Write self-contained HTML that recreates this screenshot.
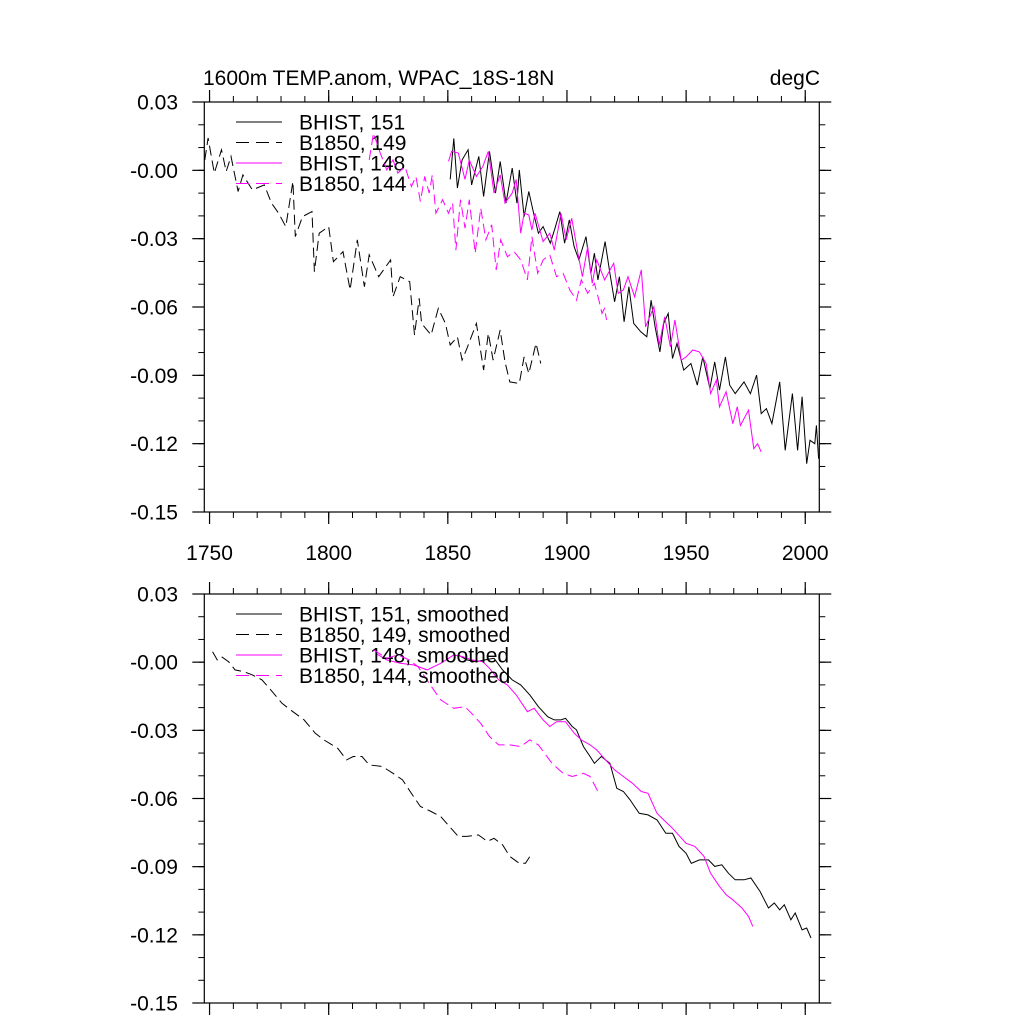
<!DOCTYPE html>
<html><head><meta charset="utf-8"><style>
html,body{margin:0;padding:0;background:#fff;}
svg{display:block;font-family:"Liberation Sans",sans-serif;}
</style></head><body>
<svg id="chart" width="1024" height="1024" viewBox="0 0 1024 1024" xmlns="http://www.w3.org/2000/svg">
<rect width="1024" height="1024" fill="#fff"/>
<text x="203" y="85" font-size="21">1600m TEMP.anom, WPAC_18S-18N</text>
<text x="820" y="85" font-size="21" text-anchor="end">degC</text>
</svg>
<script>
const xTicks=[1750,1800,1850,1900,1950,2000];
const yTicks=[0.03,0.00,-0.03,-0.06,-0.09,-0.12,-0.15];
const yTickLabels=["0.03","-0.00","-0.03","-0.06","-0.09","-0.12","-0.15"];

const b149Years=[1748,1749.4,1752,1755,1757,1759,1762,1764,1768,1773,1776,1779,1782,1785,1786,1789,1793,1794,1796,1800,1802,1806,1809,1812,1815,1817,1821,1826,1827,1830,1834,1836,1838,1839,1843,1846,1849,1851,1854,1856,1858,1862,1865,1867,1869,1872,1874,1876,1880,1882,1884,1887,1889];
const b149Vals=[0.0046,0.0142,-0.0012,0.009,-0.0005,0.0061,-0.0093,-0.002,-0.0086,-0.0064,-0.0144,-0.0188,-0.0247,-0.0049,-0.0291,-0.0203,-0.0181,-0.0445,-0.0276,-0.0247,-0.0401,-0.0357,-0.0525,-0.0305,-0.0511,-0.0371,-0.0467,-0.0393,-0.0555,-0.0467,-0.0489,-0.0723,-0.0562,-0.0672,-0.0723,-0.0606,-0.0672,-0.0767,-0.0731,-0.0833,-0.0782,-0.0672,-0.0877,-0.0716,-0.0833,-0.0701,-0.0841,-0.0929,-0.0936,-0.0819,-0.0892,-0.076,-0.0848];

const h151Years=[1851,1852.5,1854,1856,1858.5,1860,1863,1865,1867.5,1870,1872,1874.4,1877,1879,1880,1882,1884,1886,1888,1890,1893,1895,1897,1899,1901,1903,1905,1908,1910,1911.5,1913,1916,1918,1920,1922,1924,1926,1928,1931,1933.5,1935.3,1937,1939,1940.6,1942.5,1944.3,1946.2,1949,1952,1954.7,1957,1960,1962,1964,1966.5,1968.3,1970.6,1974.3,1977,1979.6,1981.5,1983.7,1986,1989.3,1991.6,1994.6,1996.8,1998.7,2000.6,2002,2004,2004.7,2005.6];
const h151Vals=[-0.004,0.014,-0.0078,0.0046,0.009,-0.0064,0.0061,-0.0115,0.0083,-0.01,0.0039,-0.0144,0.001,-0.0144,0.0002,-0.0203,-0.0093,-0.0188,-0.0276,-0.0247,-0.032,-0.0254,-0.0181,-0.032,-0.0217,-0.0335,-0.0393,-0.0291,-0.0452,-0.0364,-0.0481,-0.0313,-0.0452,-0.0577,-0.0467,-0.0665,-0.0511,-0.0672,-0.0709,-0.0731,-0.057,-0.0687,-0.0797,-0.0672,-0.0628,-0.0826,-0.076,-0.0877,-0.0848,-0.0943,-0.0819,-0.0958,-0.0841,-0.0965,-0.0819,-0.0943,-0.098,-0.0929,-0.098,-0.0899,-0.1068,-0.1046,-0.1112,-0.0929,-0.1229,-0.098,-0.1229,-0.0994,-0.1288,-0.1185,-0.12,-0.112,-0.1266];

const h148Years=[1850.3,1851.6,1854.4,1857.2,1859,1862,1864.7,1867,1869.4,1872,1874,1877,1878.7,1880.6,1882,1884,1885.3,1886.6,1890,1892.8,1894.7,1897.5,1899.7,1902,1904.6,1906.5,1908.7,1910.6,1912.5,1915.8,1919.6,1921.5,1923.7,1925.6,1928.4,1931.2,1933,1936.5,1938.7,1941,1943.4,1945.3,1948,1950,1952.8,1955.6,1958.4,1960.3,1962.7,1964,1966.8,1969.6,1971.5,1972.8,1974.3,1976.2,1978.4,1980,1981.5];
const h148Vals=[0.0039,0.0083,0.0076,-0.004,0.0046,-0.0027,0.0017,0.0083,-0.01,-0.002,-0.0144,-0.01,-0.004,-0.0276,-0.0188,-0.0196,-0.0262,-0.0188,-0.0313,-0.0276,-0.035,-0.0188,-0.0305,-0.021,-0.0364,-0.0467,-0.0335,-0.0496,-0.0393,-0.0481,-0.0408,-0.054,-0.0525,-0.0467,-0.0555,-0.0437,-0.0687,-0.0599,-0.0767,-0.0643,-0.0775,-0.0657,-0.0833,-0.0819,-0.0789,-0.0797,-0.0848,-0.098,-0.0921,-0.1038,-0.0972,-0.1112,-0.1038,-0.112,-0.109,-0.1053,-0.1222,-0.12,-0.1236];

const b144Years=[1817,1818.8,1821.6,1824.4,1827,1829,1832,1834.7,1836.6,1838.5,1840.3,1842.2,1843.5,1845,1847.8,1850.3,1852,1853.4,1855.3,1857.2,1859,1861.5,1863.8,1866,1868.4,1870.3,1872.2,1875,1877.8,1880.6,1883.4,1885.3,1887.7,1890,1892.8,1895.6,1898.4,1901.2,1904,1906,1908.7,1911.5,1913.4,1914.7,1915.8,1916.6];
const b144Vals=[0.0046,0.0164,0.0076,0.0002,0.0046,-0.0012,0.0017,-0.0071,-0.0027,-0.0137,-0.0027,-0.01,-0.002,-0.0188,-0.0129,-0.0188,-0.0144,-0.035,-0.0129,-0.0254,-0.0129,-0.0364,-0.0166,-0.0305,-0.0239,-0.0437,-0.0305,-0.0379,-0.0357,-0.0393,-0.0481,-0.0291,-0.0452,-0.0393,-0.0371,-0.0467,-0.0452,-0.0525,-0.057,-0.0481,-0.054,-0.0496,-0.057,-0.0628,-0.0606,-0.0657];

const sb149Years=[1751.3,1753.2,1755,1758,1760.7,1764.4,1768,1772,1775.7,1780.4,1785,1789.7,1794.4,1798,1803.8,1807.5,1810.3,1814,1817,1822.5,1827,1831,1835.6,1838.5,1843,1847,1850.6,1854.4,1858,1862.8,1866.6,1869.4,1873,1876,1880,1882.6,1885.3];
const sb149Vals=[0.0046,0.001,0.0024,0.0002,-0.0034,-0.0042,-0.0056,-0.0078,-0.0122,-0.0181,-0.0218,-0.0254,-0.0313,-0.0342,-0.0379,-0.043,-0.0415,-0.0415,-0.0452,-0.0459,-0.0489,-0.0518,-0.0591,-0.0635,-0.0657,-0.0679,-0.0723,-0.0767,-0.0767,-0.076,-0.0789,-0.0775,-0.0804,-0.0855,-0.0885,-0.0885,-0.0841];

const sb144Years=[1818.8,1824.4,1829,1833.8,1837.5,1842.2,1847,1852.5,1857.2,1860,1863.8,1867.5,1871.3,1876,1880.6,1884.4,1888,1893.7,1898.4,1902.2,1906.9,1909.7,1913.4];
const sb144Vals=[0.0054,0.0017,0.0032,0.001,-0.002,-0.0093,-0.0166,-0.0203,-0.0196,-0.0225,-0.0269,-0.0327,-0.0364,-0.0364,-0.0371,-0.0342,-0.0364,-0.0445,-0.0489,-0.0503,-0.0489,-0.0503,-0.0577];

const sh151Years=[1854.4,1858,1861.8,1865.6,1869.4,1873,1877,1880.6,1884.4,1888,1891.9,1894.7,1897.5,1899.4,1902.2,1904,1906.9,1909.7,1911.5,1914.4,1918,1920.9,1923.7,1926.5,1930.3,1934,1937.8,1941.5,1944.3,1947,1950,1952.2,1955.6,1959.4,1962,1965,1967.8,1970.6,1974.3,1977.2,1981,1984.6,1987,1989.3,1991.2,1994,1995.8,1998.7,2000.6,2002.4];
const sh151Vals=[0.0032,0.001,0.0002,0.001,0.0017,-0.0034,-0.0078,-0.01,-0.0144,-0.0196,-0.024,-0.0254,-0.0254,-0.0247,-0.0283,-0.0298,-0.0371,-0.0415,-0.0445,-0.0415,-0.0445,-0.0555,-0.0569,-0.0606,-0.0665,-0.0672,-0.0694,-0.0753,-0.0753,-0.0811,-0.0841,-0.0885,-0.087,-0.087,-0.0899,-0.0892,-0.0929,-0.0958,-0.0958,-0.095,-0.1009,-0.1082,-0.106,-0.109,-0.1068,-0.1134,-0.1104,-0.1178,-0.117,-0.1214];

const sh148Years=[1819.7,1824.4,1830,1835.6,1841.3,1847,1852.5,1856.3,1860,1864.7,1867.5,1871.3,1875,1878.7,1883.4,1886.2,1890,1892.8,1895.6,1899.4,1903.1,1906,1909.7,1912.5,1916.2,1920,1923.7,1927.5,1931.2,1934,1937.8,1940.6,1944.3,1946.2,1950,1953.7,1957.5,1960.3,1964,1966.8,1969.6,1973.4,1976.2,1978];
const sh148Vals=[0.0039,0.001,-0.0005,-0.0012,-0.0034,-0.0005,0.0032,0.0024,0.001,0.0002,-0.0027,-0.0078,-0.01,-0.0144,-0.0218,-0.0203,-0.0254,-0.0283,-0.0262,-0.0262,-0.0313,-0.0342,-0.0364,-0.0386,-0.043,-0.0474,-0.0503,-0.0533,-0.0569,-0.0577,-0.0665,-0.0694,-0.0731,-0.0753,-0.0797,-0.0811,-0.0855,-0.0929,-0.0987,-0.1024,-0.1046,-0.1082,-0.1119,-0.1163];

const topLegend=["BHIST, 151","B1850, 149","BHIST, 148","B1850, 144"];
const botLegend=["BHIST, 151, smoothed","B1850, 149, smoothed","BHIST, 148, smoothed","B1850, 144, smoothed"];

const NS="http://www.w3.org/2000/svg";
const svg=document.getElementById('chart');
const X0=204.3,X1=819.3,XMIN=1747.8,XMAX=2005.9;
function xs(yr){return X0+(yr-XMIN)/(XMAX-XMIN)*(X1-X0);}
function mk(tag,attrs,parent){const e=document.createElementNS(NS,tag);for(const k in attrs)e.setAttribute(k,attrs[k]);(parent||svg).appendChild(e);return e;}

function panel(top,bottom,series,legend,legY,name,showX){
  const g=mk('g',{});
  
  
  const ys=v=>top+(0.03-v)/0.18*(bottom-top);
  const fr=mk('rect',{x:X0,y:top,width:X1-X0,height:bottom-top,fill:'none',stroke:'#000','stroke-width':1.2},g);
  
  
  for(let i=0;i<=18;i++){const v=0.03-i*0.01;const y=ys(v);
    mk('line',{x1:X0-6,x2:X0,y1:y,y2:y,stroke:'#000'},g);
    mk('line',{x1:X1,x2:X1+6,y1:y,y2:y,stroke:'#000'},g);}
  yTicks.forEach((v,i)=>{const y=ys(v);
    mk('line',{x1:X0-12,x2:X0,y1:y,y2:y,stroke:'#000','stroke-width':1.2},g);
    mk('line',{x1:X1,x2:X1+12,y1:y,y2:y,stroke:'#000','stroke-width':1.2},g);
    const t=mk('text',{x:178,y:y+7.5,'font-size':21,'text-anchor':'end'},g);t.textContent=yTickLabels[i];
    
    });
  for(let yr=1750;yr<=2000;yr+=10){const x=xs(yr);
    mk('line',{x1:x,x2:x,y1:top-6,y2:top,stroke:'#000'},g);
    mk('line',{x1:x,x2:x,y1:bottom,y2:bottom+6,stroke:'#000'},g);}
  xTicks.forEach(yr=>{const x=xs(yr);
    mk('line',{x1:x,x2:x,y1:top-12,y2:top,stroke:'#000','stroke-width':1.2},g);
    mk('line',{x1:x,x2:x,y1:bottom,y2:bottom+12,stroke:'#000','stroke-width':1.2},g);
    if(showX){const t=mk('text',{x:x,y:bottom+48,'font-size':21,'text-anchor':'middle'},g);t.textContent=String(yr);
      
      }});
  series.forEach((s,i)=>{
    const d=s.years.map((yr,j)=>(j?'L':'M')+xs(yr).toFixed(1)+','+ys(s.vals[j]).toFixed(1)).join('');
    const p=mk('path',{d:d,fill:'none',stroke:s.color,'stroke-width':1,'stroke-dasharray':s.dash?'10,5':'none'},g);
    
    
    const ly=legY+i*20.5;
    const l=mk('line',{x1:236,x2:282,y1:ly,y2:ly,stroke:s.color,'stroke-dasharray':s.dash?'13,7':'none'},g);
    
    
    const t=mk('text',{x:299,y:ly+7.5,'font-size':21},g);t.textContent=legend[i];
    
    
  });
}
panel(102,512,[
  {years:h151Years,vals:h151Vals,color:'#000',dash:false,name:'bhist-151-line'},
  {years:b149Years,vals:b149Vals,color:'#000',dash:true,name:'b1850-149-line'},
  {years:h148Years,vals:h148Vals,color:'#ff00ff',dash:false,name:'bhist-148-line'},
  {years:b144Years,vals:b144Vals,color:'#ff00ff',dash:true,name:'b1850-144-line'}
],topLegend,122,'top-panel',true);
panel(594,1003,[
  {years:sh151Years,vals:sh151Vals,color:'#000',dash:false,name:'bhist-151-smoothed-line'},
  {years:sb149Years,vals:sb149Vals,color:'#000',dash:true,name:'b1850-149-smoothed-line'},
  {years:sh148Years,vals:sh148Vals,color:'#ff00ff',dash:false,name:'bhist-148-smoothed-line'},
  {years:sb144Years,vals:sb144Vals,color:'#ff00ff',dash:true,name:'b1850-144-smoothed-line'}
],botLegend,614,'bottom-panel',false);
</script>
</body></html>
